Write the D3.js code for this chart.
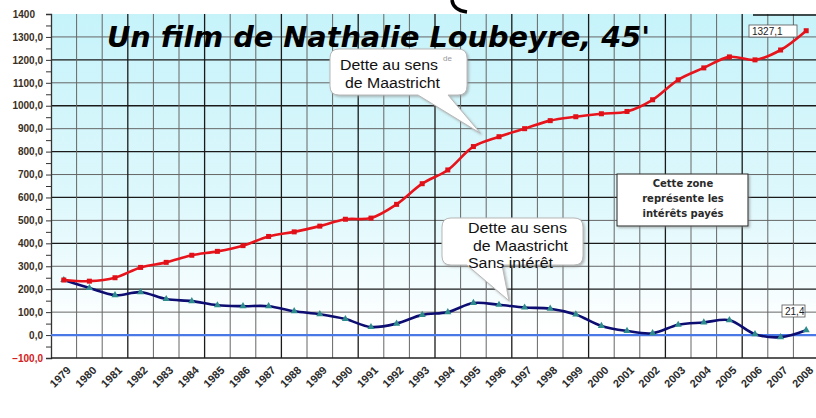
<!DOCTYPE html>
<html>
<head>
<meta charset="utf-8">
<script src="https://cdn.jsdelivr.net/npm/d3@7"></script>
<style>
    body { margin: 0; background: #fff; }
    svg { display: block; }
</style>
</head>
<body>
<div id="chart"></div>
<script>

// categories (years)
let years = [1979, 1980, 1981, 1982, 1983, 1984, 1985, 1986, 1987, 1988,
    1989, 1990, 1991, 1992, 1993, 1994, 1995, 1996, 1997, 1998,
    1999, 2000, 2001, 2002, 2003, 2004, 2005, 2006, 2007, 2008];

// dette au sens de Maastricht (Md€)
let detteMaastricht = [240, 235, 250, 295, 317, 348, 365, 390, 430, 450,
    475, 505, 510, 570, 660, 720, 822, 865, 900, 935,
    952, 965, 975, 1026, 1113, 1165, 1213, 1200, 1243, 1327.1];

// dette au sens de Maastricht sans intérêt
let detteSansInteret = [240, 205, 174, 187, 157, 148, 130, 126, 126, 104,
    91, 70, 35, 50, 88, 100, 140, 132, 120, 115,
    90, 40, 18, 8, 45, 55, 65, 4, -9, 21.4];

// y ticks
let yTicks = [-100, 0, 100, 200, 300, 400, 500, 600, 700, 800, 900, 1000, 1100, 1200, 1300, 1400];

let width = 816, height = 418;

let svg = d3.select("#chart").append("svg")
    .attr("width", width)
    .attr("height", height);

let x = d3.scaleBand()
    .domain(years)
    .range([51, 819])
    .padding(0);

let y = d3.scaleLinear()
    .domain([-100, 1400])
    .range([358, 14]);

let cx = d => x(d) + x.bandwidth() / 2;

// background gradient of the plot area
let defs = svg.append("defs");
let grad = defs.append("linearGradient")
    .attr("id", "bgGrad")
    .attr("x1", "0%").attr("x2", "0%")
    .attr("y1", "0%").attr("y2", "100%");
grad.append("stop").attr("offset", "0%").attr("stop-color", "#c6f3fa");
grad.append("stop").attr("offset", "55%").attr("stop-color", "#def8fc");
grad.append("stop").attr("offset", "92%").attr("stop-color", "#ffffff");

let shadow = defs.append("filter").attr("id", "shadow")
    .attr("x", "-10%").attr("y", "-10%").attr("width", "130%").attr("height", "140%");
shadow.append("feDropShadow")
    .attr("dx", 1.5).attr("dy", 1.5).attr("stdDeviation", 1)
    .attr("flood-color", "#888").attr("flood-opacity", 0.6);

svg.append("rect")
    .attr("x", x.range()[0])
    .attr("y", y(1400))
    .attr("width", x.range()[1] - x.range()[0])
    .attr("height", y(-100) - y(1400))
    .attr("fill", "url(#bgGrad)");

// horizontal grid
svg.append("g").selectAll("line")
    .data(yTicks.filter(d => d > -100 && d < 1400))
    .enter().append("line")
    .attr("x1", x.range()[0])
    .attr("x2", x.range()[1])
    .attr("y1", d => y(d))
    .attr("y2", d => y(d))
    .attr("stroke", d => d % 200 === 0 ? "#1a1a1a" : "#666")
    .attr("stroke-width", d => d % 200 === 0 ? 1.3 : 1);

// vertical grid at category boundaries
svg.append("g").selectAll("line")
    .data(years.slice(1))
    .enter().append("line")
    .attr("x1", d => x(d))
    .attr("x2", d => x(d))
    .attr("y1", y(1400))
    .attr("y2", y(-100))
    .attr("stroke", (d, i) => (i + 1) % 3 === 0 ? "#1a1a1a" : "#666")
    .attr("stroke-width", (d, i) => (i + 1) % 3 === 0 ? 1.3 : 1);

// top border, only visible on the right
svg.append("line")
    .attr("x1", 753).attr("x2", width)
    .attr("y1", y(1400) + 1).attr("y2", y(1400) + 1)
    .attr("stroke", "#111").attr("stroke-width", 1.5);

// y axis
let yAxis = d3.axisLeft(y)
    .tickValues(d3.range(-100, 1401, 50))
    .tickSize(5)
    .tickFormat(d => {
        if (d % 100 !== 0) return "";
        if (d === 1400) return "1400";
        return d3.format(".1f")(d).replace(".", ",");
    });

let yG = svg.append("g")
    .attr("transform", `translate(${x.range()[0]},0)`)
    .call(yAxis);
yG.select(".domain").attr("stroke", "#333").attr("stroke-width", 1.3);
yG.selectAll(".tick line").attr("stroke", "#333");
yG.selectAll(".tick text")
    .attr("x", -8)
    .attr("font-family", "Liberation Sans, Arial, sans-serif")
    .attr("font-size", 10)
    .attr("font-weight", "bold")
    .attr("fill", d => d < 0 ? "#d42020" : "#3a2e22");
yG.selectAll(".tick").filter(d => d === 1400).select("text").attr("x", -16);

// x axis
svg.append("line")
    .attr("x1", x.range()[0]).attr("x2", x.range()[1])
    .attr("y1", y(-100)).attr("y2", y(-100))
    .attr("stroke", "#222").attr("stroke-width", 1.5);

svg.append("g").selectAll("text")
    .data(years)
    .enter().append("text")
    .attr("transform", d => `translate(${cx(d) + 2},${y(-100) + 7}) rotate(-45)`)
    .attr("text-anchor", "end")
    .attr("dy", "0.75em")
    .attr("font-family", "Liberation Sans, Arial, sans-serif")
    .attr("font-size", 11)
    .attr("font-weight", "bold")
    .attr("fill", "#2a2a2a")
    .text(d => d);

// zero line
svg.append("line")
    .attr("x1", x.range()[0]).attr("x2", x.range()[1])
    .attr("y1", y(0)).attr("y2", y(0))
    .attr("stroke", "#4a78e6").attr("stroke-width", 2.2);

// lines
let line = d3.line()
    .x((d, i) => cx(years[i]))
    .y(d => y(d))
    .curve(d3.curveCatmullRom.alpha(0.5));

svg.append("path")
    .datum(detteSansInteret)
    .attr("d", line)
    .attr("fill", "none")
    .attr("stroke", "#0d0d72")
    .attr("stroke-width", 2.6);

svg.append("g").selectAll("path")
    .data(detteSansInteret)
    .enter().append("path")
    .attr("d", d3.symbol().type(d3.symbolTriangle).size(22))
    .attr("transform", (d, i) => `translate(${cx(years[i])},${y(d)})`)
    .attr("fill", "#2e8c8c");

svg.append("path")
    .datum(detteMaastricht)
    .attr("d", line)
    .attr("fill", "none")
    .attr("stroke", "#e8141c")
    .attr("stroke-width", 2.6);

svg.append("g").selectAll("rect")
    .data(detteMaastricht)
    .enter().append("rect")
    .attr("x", (d, i) => cx(years[i]) - 2.5)
    .attr("y", d => y(d) - 2.5)
    .attr("width", 5)
    .attr("height", 5)
    .attr("fill", "#e01018");

// title
svg.append("text")
    .attr("x", 107)
    .attr("y", 47)
    .attr("textLength", 543)
    .attr("lengthAdjust", "spacingAndGlyphs")
    .attr("font-family", "'Comic Sans MS', 'DejaVu Sans', sans-serif")
    .attr("font-size", 28)
    .attr("font-weight", "bold")
    .attr("font-style", "italic")
    .attr("fill", "#000")
    .text("Un film de Nathalie Loubeyre, 45'");

// cropped glyph at the top
svg.append("path")
    .attr("d", "M452,0 Q453,10 467,12")
    .attr("fill", "none")
    .attr("stroke", "#000")
    .attr("stroke-width", 3.5);

// speech bubbles
function bubble(x0, y0, x1, y1, r, baseL, baseR, tip) {
    let p = d3.path();
    p.moveTo(x0 + r, y0);
    p.lineTo(x1 - r, y0);
    p.quadraticCurveTo(x1, y0, x1, y0 + r);
    p.lineTo(x1, y1 - r);
    p.quadraticCurveTo(x1, y1, x1 - r, y1);
    p.lineTo(baseR, y1);
    p.lineTo(tip[0], tip[1]);
    p.lineTo(baseL, y1);
    p.lineTo(x0 + r, y1);
    p.quadraticCurveTo(x0, y1, x0, y1 - r);
    p.lineTo(x0, y0 + r);
    p.quadraticCurveTo(x0, y0, x0 + r, y0);
    p.closePath();
    return p.toString();
}

let bubbleFont = "Liberation Sans, Arial, sans-serif";

svg.append("path")
    .attr("d", bubble(330, 49, 467, 95, 9, 418, 448, [cx(1995) + 7, y(880)]))
    .attr("fill", "#fff")
    .attr("stroke", "#b8b8b8")
    .attr("stroke-width", 1)
    .attr("filter", "url(#shadow)");

[["Dette au sens", 340, 70, 98], ["de Maastricht", 345, 88, 95]].forEach(t => {
    svg.append("text")
        .attr("x", t[1]).attr("y", t[2])
        .attr("textLength", t[3])
        .attr("lengthAdjust", "spacingAndGlyphs")
        .attr("font-family", bubbleFont)
        .attr("font-size", 14)
        .attr("fill", "#111")
        .text(t[0]);
});
svg.append("text")
    .attr("x", 443).attr("y", 61)
    .attr("font-family", bubbleFont)
    .attr("font-size", 8)
    .attr("fill", "#999")
    .text("de");

svg.append("path")
    .attr("d", bubble(442, 218, 583, 265, 9, 467, 502, [cx(1996) + 10, y(150)]))
    .attr("fill", "#fff")
    .attr("stroke", "#b8b8b8")
    .attr("stroke-width", 1)
    .attr("filter", "url(#shadow)");

[["Dette au sens", 468, 233, 99], ["de Maastricht", 473, 251, 95], ["Sans intérêt", 468, 268, 85]].forEach(t => {
    svg.append("text")
        .attr("x", t[1]).attr("y", t[2])
        .attr("textLength", t[3])
        .attr("lengthAdjust", "spacingAndGlyphs")
        .attr("font-family", bubbleFont)
        .attr("font-size", 14)
        .attr("fill", "#111")
        .text(t[0]);
});

// zone box
svg.append("rect")
    .attr("x", 617).attr("y", 174)
    .attr("width", 131).attr("height", 52)
    .attr("fill", "#fff")
    .attr("stroke", "#222")
    .attr("stroke-width", 1)
    .attr("filter", "url(#shadow)");

[["Cette zone", 187], ["représente les", 202], ["intérêts payés", 217]].forEach(t => {
    svg.append("text")
        .attr("x", 683).attr("y", t[1])
        .attr("text-anchor", "middle")
        .attr("font-family", "DejaVu Sans, Verdana, sans-serif")
        .attr("font-size", 10)
        .attr("font-weight", "bold")
        .attr("fill", "#2a2a2a")
        .text(t[0]);
});

// end value labels
let lastIdx = years.length - 1;
let endLabels = [
    {value: detteMaastricht[lastIdx], x: 749, y: 25, w: 48},
    {value: detteSansInteret[lastIdx], x: 782, y: 305, w: 23}
];
endLabels.forEach(l => {
    svg.append("rect")
        .attr("x", l.x).attr("y", l.y)
        .attr("width", l.w).attr("height", 12)
        .attr("fill", "#fff")
        .attr("stroke", "#555")
        .attr("stroke-width", 0.8);
    svg.append("text")
        .attr("x", l.x + 3).attr("y", l.y + 10)
        .attr("font-family", bubbleFont)
        .attr("font-size", 10)
        .attr("fill", "#222")
        .text(d3.format(".1f")(l.value).replace(".", ","));
});

</script>
</body>
</html>
